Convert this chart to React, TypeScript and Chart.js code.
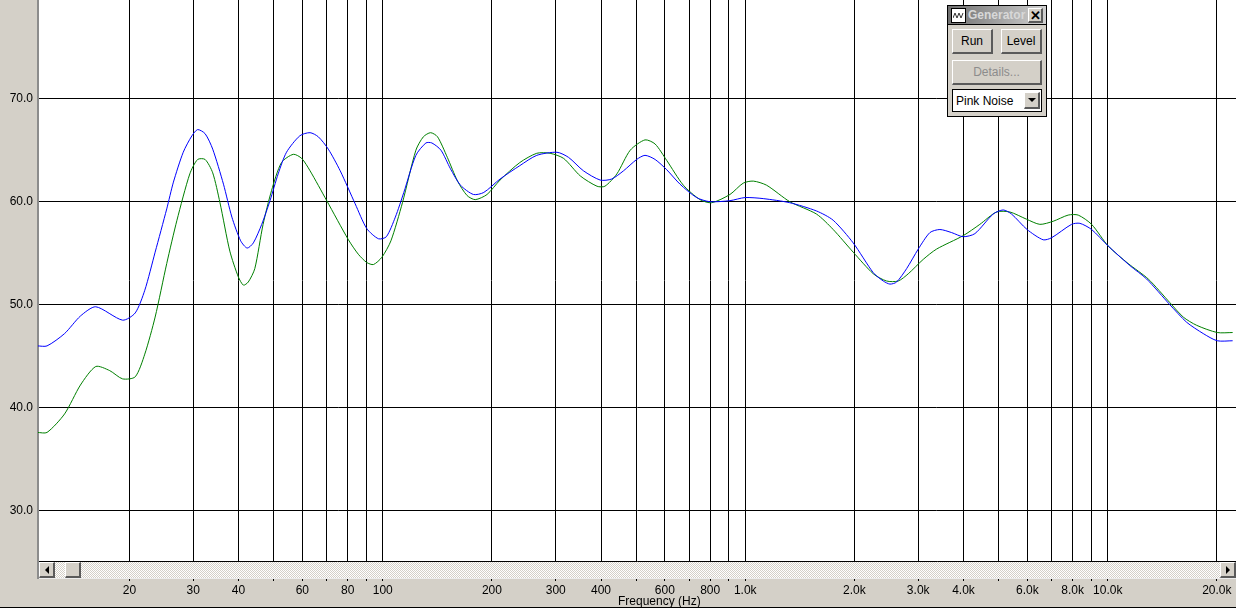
import React, { useEffect, useRef } from "react";
import { Chart, registerables } from "chart.js";

Chart.register(...registerables);

const blueFreq = [11.15, 11.85, 13.25, 14.65, 16.15, 19.15, 20.75, 22.05, 23.55, 25.35, 26.45, 28.15, 29.75, 30.85, 32.35, 33.95, 36.35, 38.35, 40.55, 42.25, 43.95, 46.35, 48.85, 51.45, 54.25, 59.05, 63.0, 66.4, 70.75, 76.3, 83.9, 90.3, 97.3, 102.3, 108.3, 114.3, 123.4, 131.5, 136.6, 144.7, 153.7, 163.8, 177.9, 190, 210.6, 238.8, 266, 302.4, 325.5, 357.7, 398, 428, 461.5, 501.7, 528.9, 564, 607.3, 660.7, 734.2, 798.6, 907.3, 998, 1120.7, 1327, 1572, 1748, 1985, 2256, 2403, 2507, 2615, 2787, 3001, 3231, 3443, 3710, 3991, 4300, 4830, 5147, 5428, 5990, 6636, 6999, 7947, 8379, 9026, 10028, 11510, 12798, 14840, 16503, 18339, 20040, 22110];
const blueDb = [46.0, 46.0, 47.2, 48.9, 49.8, 48.5, 49.2, 51.4, 55.1, 59.3, 61.9, 64.8, 66.4, 67.0, 66.6, 65.1, 61.7, 58.5, 56.2, 55.5, 56.0, 57.8, 60.1, 62.7, 64.8, 66.4, 66.7, 66.3, 65.1, 63.0, 59.8, 57.4, 56.4, 56.6, 58.5, 60.9, 64.5, 65.7, 65.7, 65.0, 63.2, 61.6, 60.7, 60.9, 62.2, 63.5, 64.5, 64.8, 64.3, 63.0, 62.1, 62.2, 63.0, 64.1, 64.5, 64.1, 63.1, 61.7, 60.4, 60.0, 60.1, 60.4, 60.3, 59.9, 59.1, 58.2, 56.0, 53.1, 52.3, 52.0, 52.2, 53.5, 55.4, 57.0, 57.3, 57.0, 56.6, 56.9, 58.8, 59.2, 58.8, 57.3, 56.3, 56.5, 57.8, 57.9, 57.3, 55.7, 53.8, 52.5, 50.0, 48.3, 47.2, 46.5, 46.5];

const greenFreq = [11.15, 11.85, 13.25, 14.65, 16.15, 17.65, 19.15, 20.75, 22.05, 23.55, 25.35, 27.05, 29.35, 30.85, 32.35, 33.95, 35.55, 37.85, 39.95, 41.25, 42.55, 44.35, 46.75, 49.35, 52.55, 56.65, 59.75, 63.0, 70.05, 80.4, 85.6, 90.3, 94.25, 99.4, 105.3, 113.3, 123.4, 129.4, 135.5, 141.6, 150.7, 160.8, 170.8, 179.9, 193.9, 210.6, 238.8, 266, 289.4, 315.5, 350.7, 390, 410, 442.4, 481.6, 528.9, 564, 607.3, 674.9, 750.3, 807.7, 907.3, 987, 1052.3, 1145, 1327, 1572, 1748, 1985, 2256, 2454, 2642, 2816, 3097, 3371, 3991, 4438, 4933, 5370, 5970, 6498, 7069, 7777, 8289, 9026, 10028, 11383, 12931, 14840, 16155, 17590, 20040, 22110];
const greenDb = [37.6, 37.6, 39.4, 42.2, 44.0, 43.6, 42.8, 43.0, 45.2, 48.8, 54.0, 58.2, 62.7, 64.1, 64.1, 62.8, 59.9, 55.2, 52.7, 51.9, 52.2, 53.5, 57.8, 61.1, 63.8, 64.6, 64.2, 63.0, 60.1, 56.3, 54.9, 54.1, 53.9, 54.6, 56.2, 59.9, 65.0, 66.3, 66.7, 66.3, 64.3, 62.0, 60.6, 60.2, 60.7, 62.1, 63.8, 64.7, 64.7, 64.2, 62.5, 61.5, 61.5, 62.7, 65.0, 66.0, 65.6, 64.0, 61.6, 60.2, 59.9, 60.7, 61.8, 62.0, 61.6, 60.0, 58.8, 57.3, 55.1, 53.0, 52.3, 52.3, 53.0, 54.4, 55.4, 56.7, 57.8, 59.0, 59.0, 58.3, 57.8, 58.1, 58.7, 58.7, 57.8, 55.7, 54.0, 52.5, 50.2, 48.8, 48.0, 47.3, 47.3];

const freqTicks = [20, 30, 40, 50, 60, 70, 80, 90, 100, 200, 300, 400, 500, 600, 700, 800, 900, 1000, 2000, 3000, 4000, 5000, 6000, 7000, 8000, 9000, 10000, 20000];
const freqLabels = ["20", "30", "40", "", "60", "", "80", "", "100", "200", "300", "400", "", "600", "", "800", "", "1.0k", "2.0k", "3.0k", "4.0k", "", "6.0k", "", "8.0k", "", "10.0k", "20.0k"];
const levelTicks = [30, 40, 50, 60, 70];

const FACE = "#d4d0c8";
const FONT = "'Liberation Sans', Arial, sans-serif";

const areaPlugin = {
  id: "area",
  beforeDraw(chart: any) {
    const { ctx, chartArea: a, width, height } = chart;
    ctx.save();
    ctx.fillStyle = FACE;
    ctx.fillRect(0, 0, width, height);
    ctx.fillStyle = "#ffffff";
    ctx.fillRect(a.left, a.top, a.right - a.left, a.bottom - a.top);
    ctx.restore();
  },
};

const box = (l: number, t: number, w: number, h: number): React.CSSProperties => ({
  position: "absolute",
  left: l,
  top: t,
  width: w,
  height: h,
  boxSizing: "border-box",
});

const bevel: React.CSSProperties = {
  background: FACE,
  borderTop: "1px solid #ffffff",
  borderLeft: "1px solid #ffffff",
  borderRight: "2px solid #5a5a5a",
  borderBottom: "2px solid #5a5a5a",
};

const centered: React.CSSProperties = {
  display: "flex",
  alignItems: "center",
  justifyContent: "center",
};

function Btn(p: { l: number; t: number; w: number; h: number; text: string; off?: boolean }) {
  return (
    <div style={{ ...box(p.l, p.t, p.w, p.h), ...bevel, ...centered, color: p.off ? "#8c8c8c" : "#000", font: `12px ${FONT}` }}>
      {p.text}
    </div>
  );
}

function Tri(p: { dir: "left" | "right" | "down" }) {
  const s: React.CSSProperties =
    p.dir === "down"
      ? { borderLeft: "4px solid transparent", borderRight: "4px solid transparent", borderTop: "4px solid #000" }
      : p.dir === "left"
      ? { borderTop: "4px solid transparent", borderBottom: "4px solid transparent", borderRight: "4px solid #000" }
      : { borderTop: "4px solid transparent", borderBottom: "4px solid transparent", borderLeft: "4px solid #000" };
  return <div style={{ width: 0, height: 0, ...s }} />;
}

export default function App() {
  const ref = useRef<HTMLCanvasElement>(null);

  useEffect(() => {
    const chart = new Chart(ref.current as HTMLCanvasElement, {
      type: "line",
      plugins: [areaPlugin],
      data: {
        datasets: [
          {
            data: blueFreq.map((x, i) => ({ x, y: blueDb[i] })),
            borderColor: "#0000ff",
            borderWidth: 1,
            pointRadius: 0,
            tension: 0.25,
          },
          {
            data: greenFreq.map((x, i) => ({ x, y: greenDb[i] })),
            borderColor: "#008000",
            borderWidth: 1,
            pointRadius: 0,
            tension: 0.25,
          },
        ],
      },
      options: {
        responsive: false,
        animation: false,
        parsing: false,
        normalized: true,
        layout: { padding: 0 },
        plugins: { legend: { display: false }, tooltip: { enabled: false }, title: { display: false } },
        scales: {
          x: {
            type: "logarithmic",
            min: 11.19,
            max: 22585,
            afterFit(s: any) {
              s.height = 47;
              s.paddingLeft = 0;
              s.paddingRight = 0;
            },
            afterBuildTicks(s: any) {
              s.ticks = freqTicks.map((value) => ({ value, major: false }));
            },
            border: { color: "#000000", width: 1 },
            grid: { color: "#000000", lineWidth: 1, tickLength: 20, tickColor: "#000000" },
            ticks: {
              autoSkip: false,
              maxRotation: 0,
              minRotation: 0,
              padding: 2,
              color: "#000000",
              font: { family: FONT, size: 12 },
              callback: (v: any) => freqLabels[freqTicks.indexOf(Number(v))] ?? "",
            },
          },
          y: {
            type: "linear",
            min: 25.12,
            max: 79.58,
            afterFit(s: any) {
              s.width = 38;
              s.paddingTop = 0;
              s.paddingBottom = 0;
            },
            afterBuildTicks(s: any) {
              s.ticks = levelTicks.map((value) => ({ value }));
            },
            border: { color: "#8c8c8c", width: 2 },
            grid: { color: "#000000", lineWidth: 1, drawTicks: false },
            ticks: {
              padding: 5,
              color: "#000000",
              font: { family: FONT, size: 12 },
              callback: (v: any) => Number(v).toFixed(1),
            },
          },
        },
      },
    } as any);
    return () => chart.destroy();
  }, []);

  return (
    <div style={{ position: "fixed", left: 0, top: 0, width: 1236, height: 608, overflow: "hidden", background: FACE }}>
      <canvas ref={ref} width={1236} height={608} style={{ display: "block", position: "absolute", left: 0, top: 0 }} />

      {/* scrollbar */}
      <div style={{ ...box(37, 561, 2, 18), background: "#8c8c8c" }} />
      <div
        style={{
          ...box(39, 562, 1197, 16),
          background: "repeating-conic-gradient(#d4d0c8 0 25%, #ffffff 0 50%) 0 0 / 2px 2px",
        }}
      />
      <div style={{ ...box(39, 578, 1197, 1), background: "#ececec" }} />
      <div style={{ ...box(39, 562, 16, 16), ...bevel, ...centered }}>
        <Tri dir="left" />
      </div>
      <div style={{ ...box(65, 562, 16, 16), ...bevel }} />
      <div style={{ ...box(1220, 562, 16, 16), ...bevel, ...centered }}>
        <Tri dir="right" />
      </div>

      {/* axis title and window edge */}
      <div style={{ position: "absolute", left: 618, top: 594, font: `12px ${FONT}`, color: "#000", whiteSpace: "nowrap" }}>
        Frequency (Hz)
      </div>
      <div style={{ ...box(0, 607, 1236, 1), background: "#000" }} />

      {/* generator window */}
      <div style={{ ...box(947, 5, 100, 112), background: FACE, border: "1px solid #000" }} />
      <div
        style={{
          ...box(948, 6, 98, 19),
          background: "linear-gradient(90deg, #707070, #d0d0d0)",
          borderBottom: "1px solid #000",
        }}
      />
      <div style={{ ...box(951, 8, 15, 15), background: "#fff", border: "1px solid #000", ...centered }}>
        <svg width="11" height="7" viewBox="0 0 11 7">
          <path d="M0 6 L2 1 L4 6 L6 1 L8 6 L10 1" stroke="#333" fill="none" strokeWidth="1" />
        </svg>
      </div>
      <div style={{ position: "absolute", left: 968, top: 8, font: `bold 12px ${FONT}`, color: "#d8d8d8", whiteSpace: "nowrap" }}>
        Generator
      </div>
      <div style={{ ...box(1028, 8, 15, 15), ...bevel, ...centered, font: `bold 13px ${FONT}`, color: "#000" }}>✕</div>
      <Btn l={952} t={29} w={41} h={25} text="Run" />
      <Btn l={1001} t={29} w={41} h={25} text="Level" />
      <Btn l={952} t={60} w={90} h={25} text="Details..." off />
      <div style={{ ...box(952, 89, 90, 23), background: "#fff", border: "1px solid #000" }} />
      <div style={{ position: "absolute", left: 956, top: 94, font: `12px ${FONT}`, color: "#000", whiteSpace: "nowrap" }}>
        Pink Noise
      </div>
      <div style={{ ...box(1024, 92, 16, 17), ...bevel, ...centered }}>
        <Tri dir="down" />
      </div>
    </div>
  );
}
